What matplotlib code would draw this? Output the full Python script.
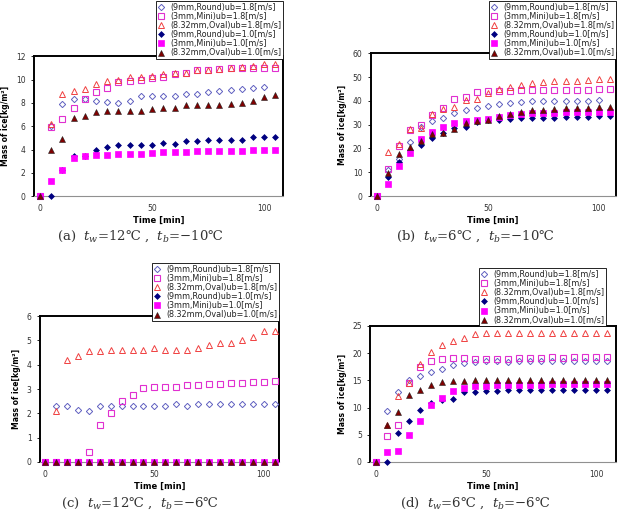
import numpy as np
import matplotlib
matplotlib.use("Agg")
import matplotlib.pyplot as plt

nan = np.nan

# time axis (min)
time = [0, 5, 10, 15, 20, 25, 30, 35, 40, 45, 50, 55, 60, 65, 70, 75, 80, 85, 90, 95, 100, 105]

labels = ["(9mm,Round)ub=1.8[m/s]", "(3mm,Mini)ub=1.8[m/s]", "(8.32mm,Oval)ub=1.8[m/s]",
          "(9mm,Round)ub=1.0[m/s]", "(3mm,Mini)ub=1.0[m/s]", "(8.32mm,Oval)ub=1.0[m/s]"]

# (a) tw=12, tb=-10
a_round18 = [0, 6.0, 7.9, 8.3, 8.3, 8.2, 8.1, 8.0, 8.2, 8.6, 8.6, 8.6, 8.6, 8.8, 8.8, 8.9, 9.0, 9.1, 9.2, 9.3, 9.4, nan]
a_mini18 = [0, 5.9, 6.6, 7.6, 8.3, 8.9, 9.3, 9.8, 9.9, 10.0, 10.1, 10.2, 10.5, 10.6, 10.8, 10.8, 10.9, 11.0, 11.0, 11.0, 11.0, 11.0]
a_oval18 = [0, 6.2, 8.8, 9.0, 9.2, 9.6, 9.9, 10.0, 10.2, 10.2, 10.3, 10.5, 10.6, 10.6, 10.8, 10.8, 10.9, 11.0, 11.1, 11.2, 11.3, 11.3]
a_round10 = [0, 0, 2.2, 3.4, 3.4, 4.0, 4.2, 4.4, 4.4, 4.4, 4.4, 4.6, 4.5, 4.7, 4.7, 4.8, 4.8, 4.8, 4.8, 5.1, 5.1, 5.1]
a_mini10 = [0, 1.3, 2.2, 3.3, 3.4, 3.5, 3.5, 3.6, 3.65, 3.65, 3.7, 3.75, 3.8, 3.8, 3.85, 3.85, 3.9, 3.9, 3.9, 4.0, 4.0, 4.0]
a_oval10 = [0, 4.0, 4.9, 6.7, 6.9, 7.2, 7.3, 7.3, 7.3, 7.3, 7.5, 7.6, 7.6, 7.8, 7.8, 7.8, 7.8, 7.9, 8.0, 8.2, 8.5, 8.7]

# (b) tw=6, tb=-10
b_round18 = [0, 11.0, 15.5, 22.7, 29.0, 31.5, 33.0, 35.0, 36.3, 37.0, 38.0, 38.8, 39.3, 39.5, 39.8, 39.8, 39.8, 39.8, 39.8, 40.0, 40.3, nan]
b_mini18 = [0, 11.5, 21.0, 27.8, 30.0, 34.0, 37.2, 40.8, 41.5, 43.8, 44.0, 44.3, 44.3, 44.5, 44.5, 44.5, 44.5, 44.5, 44.7, 44.7, 44.8, 44.8]
b_oval18 = [0, 18.5, 22.0, 28.0, 28.5, 34.5, 36.5, 37.5, 40.2, 40.8, 43.5, 44.8, 45.8, 46.5, 47.3, 48.0, 48.3, 48.3, 48.5, 48.7, 49.0, 49.3]
b_round10 = [0, 8.0, 14.3, 19.5, 21.3, 24.2, 26.3, 28.5, 29.0, 31.0, 31.8, 31.8, 32.3, 32.6, 32.8, 32.8, 33.0, 33.3, 33.3, 33.3, 33.5, 33.7]
b_mini10 = [0, 5.0, 12.5, 18.0, 24.0, 27.0, 29.0, 30.5, 31.5, 32.0, 32.5, 33.3, 34.0, 34.5, 34.7, 35.0, 35.0, 35.2, 35.2, 35.2, 35.3, 35.3]
b_oval10 = [0, 9.5, 17.5, 20.5, 23.0, 26.0, 26.5, 28.3, 30.8, 31.5, 32.0, 33.5, 34.5, 35.2, 36.0, 36.2, 36.5, 36.8, 37.0, 37.0, 37.3, 37.5]

# (c) tw=12, tb=-6
c_round18 = [0, 2.3, 2.3, 2.15, 2.1, 2.3, 2.3, 2.3, 2.3, 2.3, 2.3, 2.3, 2.4, 2.3, 2.4, 2.4, 2.4, 2.4, 2.4, 2.4, 2.4, 2.4]
c_mini18 = [0, 0, 0, 0, 0.4, 1.5, 2.0, 2.5, 2.75, 3.05, 3.1, 3.1, 3.1, 3.15, 3.15, 3.2, 3.2, 3.25, 3.25, 3.3, 3.3, 3.35]
c_oval18 = [0, 2.1, 4.2, 4.35, 4.55, 4.55, 4.6, 4.6, 4.6, 4.6, 4.7, 4.6, 4.6, 4.6, 4.7, 4.8, 4.9, 4.9, 5.0, 5.15, 5.4, 5.4]
c_round10 = [0] * 22
c_mini10 = [0] * 22
c_oval10 = [0] * 22

# (d) tw=6, tb=-6
d_round18 = [0, 9.3, 12.8, 15.0, 15.7, 16.5, 17.0, 17.8, 18.2, 18.4, 18.5, 18.5, 18.4, 18.5, 18.5, 18.6, 18.5, 18.5, 18.5, 18.5, 18.5, 18.5]
d_mini18 = [0, 4.8, 6.8, 14.5, 17.5, 18.6, 18.9, 19.0, 19.0, 18.9, 18.9, 18.9, 18.9, 19.0, 19.0, 19.0, 19.2, 19.0, 19.2, 19.2, 19.2, 19.2]
d_oval18 = [0, 6.8, 12.2, 14.5, 18.0, 20.2, 21.5, 22.2, 22.8, 23.5, 23.7, 23.7, 23.7, 23.7, 23.7, 23.7, 23.7, 23.7, 23.7, 23.7, 23.7, 23.7]
d_round10 = [0, 0, 5.3, 7.6, 9.6, 10.8, 11.3, 11.5, 12.8, 12.9, 13.0, 13.0, 13.2, 13.2, 13.3, 13.3, 13.3, 13.3, 13.3, 13.2, 13.2, 13.2]
d_mini10 = [0, 1.8, 2.1, 5.0, 7.5, 10.5, 11.8, 13.1, 13.6, 13.9, 14.0, 14.1, 14.2, 14.2, 14.2, 14.2, 14.3, 14.3, 14.3, 14.3, 14.3, 14.3]
d_oval10 = [0, 6.7, 9.2, 12.3, 13.3, 14.2, 14.6, 14.9, 14.9, 15.0, 15.0, 15.0, 15.1, 15.1, 15.1, 15.1, 15.1, 15.1, 15.1, 15.1, 15.1, 15.1]

styles = [
    dict(marker="D", ms=3.2, mfc="none", mec="#6060c0", mew=0.7),
    dict(marker="s", ms=4.2, mfc="none", mec="#e030d0", mew=0.8),
    dict(marker="^", ms=4.5, mfc="none", mec="#f04040", mew=0.7),
    dict(marker="D", ms=3.0, mfc="#000080", mec="#000080", mew=0.5),
    dict(marker="s", ms=4.2, mfc="#ff00ff", mec="#ff00ff", mew=0.5),
    dict(marker="^", ms=4.5, mfc="#800000", mec="#202020", mew=0.4),
]

panels = [
    dict(rect=[0.0547, 0.617, 0.401, 0.273], data=[a_round18, a_mini18, a_oval18, a_round10, a_mini10, a_oval10],
         ylim=12, ystep=2, xlim=(-2.7, 108.4), leg=(0.4557, 0.998), legloc="upper right",
         cap=(0.2254, 0.539), caption=r"(a)  $t_w$=12℃ ,  $t_b$=−10℃"),
    dict(rect=[0.597, 0.617, 0.3945, 0.279], data=[b_round18, b_mini18, b_oval18, b_round10, b_mini10, b_oval10],
         ylim=60, ystep=10, xlim=(-2.7, 107.6), leg=(0.992, 0.998), legloc="upper right",
         cap=(0.765, 0.539), caption=r"(b)  $t_w$=6℃ ,  $t_b$=−10℃"),
    dict(rect=[0.0644, 0.0977, 0.385, 0.285], data=[c_round18, c_mini18, c_oval18, c_round10, c_mini10, c_oval10],
         ylim=6, ystep=1, xlim=(-2.3, 107.0), leg=(0.449, 0.373), legloc="lower right",
         cap=(0.2254, 0.0176), caption=r"(c)  $t_w$=12℃ ,  $t_b$=−6℃"),
    dict(rect=[0.596, 0.0977, 0.396, 0.266], data=[d_round18, d_mini18, d_oval18, d_round10, d_mini10, d_oval10],
         ylim=25, ystep=5, xlim=(-2.7, 109.0), leg=(0.976, 0.363), legloc="lower right",
         cap=(0.765, 0.0176), caption=r"(d)  $t_w$=6℃ ,  $t_b$=−6℃"),
]

plt.rcParams["mathtext.fontset"] = "dejavuserif"

fig = plt.figure(figsize=(6.21, 5.12), dpi=100)

for p in panels:
    ax = fig.add_axes(p["rect"])
    handles = []
    for series, st, lab in zip(p["data"], styles, labels):
        h, = ax.plot(time, series, linestyle="none", label=lab, clip_on=False, zorder=3, **st)
        handles.append(h)
    ax.set_xlim(*p["xlim"])
    ax.set_ylim(0, p["ylim"])
    ax.set_xticks([0, 50, 100])
    ax.set_yticks(np.arange(0, p["ylim"] + 0.1, p["ystep"]))
    ax.tick_params(labelsize=5.5, length=2, width=0.6, pad=4, labelcolor="#333333")
    ax.tick_params(axis="x", length=0, pad=6)
    for s in ["top", "left", "right"]:
        ax.spines[s].set_linewidth(1.4)
        ax.spines[s].set_color("black")
    ax.spines["bottom"].set_linewidth(0.8)
    ax.spines["bottom"].set_color("#909090")
    ax.set_xlabel("Time [min]", fontsize=6, fontweight="bold", labelpad=2)
    ax.set_ylabel("Mass of ice[kg/m²]", fontsize=5.5, fontweight="bold", labelpad=4)
    leg = ax.legend(handles=handles, loc=p["legloc"], bbox_to_anchor=p["leg"],
                    bbox_transform=fig.transFigure, fontsize=5.8, frameon=True,
                    fancybox=False, edgecolor="black", framealpha=1,
                    labelspacing=0.02, handlelength=1.0, handletextpad=0.6,
                    borderpad=0.2, borderaxespad=0)
    leg.get_frame().set_linewidth(0.6)
    leg.set_zorder(5)
    for txt in leg.get_texts():
        txt.set_color("#222222")
    fig.text(p["cap"][0], p["cap"][1], p["caption"], ha="center", va="center",
             fontsize=9.5, family="DejaVu Serif", color="#333333")

fig.savefig("out.png", dpi=100)
